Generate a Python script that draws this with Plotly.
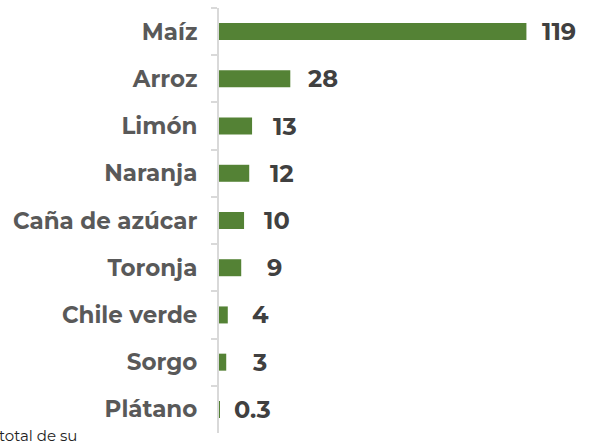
import plotly.graph_objects as go

categories = ["Maíz", "Arroz", "Limón", "Naranja", "Caña de azúcar", "Toronja", "Chile verde", "Sorgo", "Plátano"]
values = [119, 27.6, 12.8, 11.7, 9.7, 8.6, 3.4, 2.8, 0.3]
value_labels = ["119", "28", "13", "12", "10", "9", "4", "3", "0.3"]
note_text = "total de su"

FONT = "Montserrat, DejaVu Sans, sans-serif"

fig = go.Figure()
fig.add_trace(go.Bar(
    x=values, y=categories, orientation="h",
    marker=dict(color="#548235", line=dict(width=0)),
    width=0.36,
    hoverinfo="skip",
))

annotations = [
    dict(x=v, y=c, xref="x", yref="y", text=t, showarrow=False,
         xanchor="center", yanchor="middle", xshift=33,
         font=dict(family=FONT, size=24, color="#404040", weight="bold"))
    for v, c, t in zip(values, categories, value_labels)
]
annotations.append(dict(
    x=-0.596, y=-0.005, xref="paper", yref="paper", text=note_text,
    showarrow=False, xanchor="left", yanchor="middle",
    font=dict(family=FONT, size=15, color="#222222")))

fig.update_layout(
    width=591, height=442,
    margin=dict(l=219, r=0, t=8, b=9),
    paper_bgcolor="white", plot_bgcolor="white",
    showlegend=False,
    annotations=annotations,
    xaxis=dict(range=[0, 144], visible=False, fixedrange=True, automargin=False),
    yaxis=dict(
        autorange="reversed", automargin=False, fixedrange=True,
        showline=True, linecolor="#d9d9d9", linewidth=2,
        ticks="outside", ticklen=6, tickcolor="#d9d9d9", tickwidth=2,
        tickson="boundaries", showgrid=False,
        ticklabelstandoff=15,
        tickfont=dict(family=FONT, size=23, color="#595959", weight="bold"),
    ),
)

fig.write_html("out.html",
               config={"displayModeBar": False},
               post_script="document.body.style.margin='0px';document.body.style.overflow='hidden';")
